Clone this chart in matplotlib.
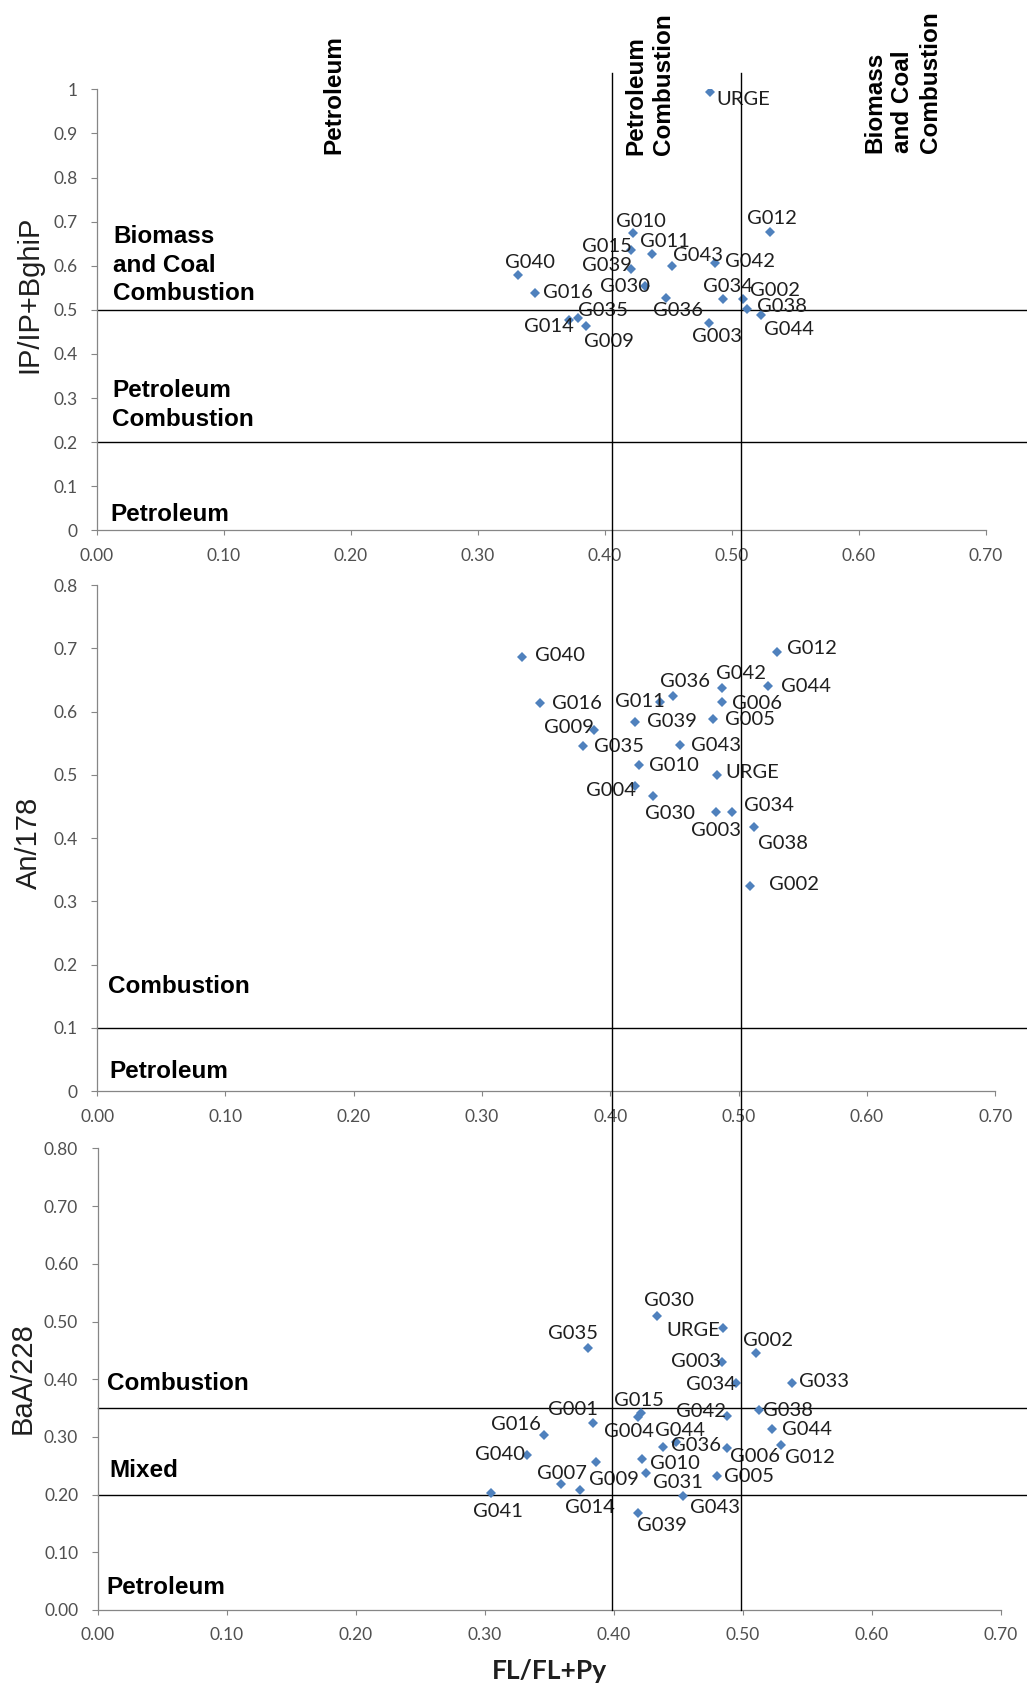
import matplotlib
matplotlib.use('Agg')
import matplotlib.pyplot as plt
from matplotlib.lines import Line2D
from matplotlib.transforms import blended_transform_factory

# ---------------- data ----------------
x_ticks = [0.0, 0.1, 0.2, 0.3, 0.4, 0.5, 0.6, 0.7]
x_tick_labels = ['0.00', '0.10', '0.20', '0.30', '0.40', '0.50', '0.60', '0.70']

# panel 1: IP/IP+BghiP
ip_names = ['URGE', 'G010', 'G012', 'G015', 'G011', 'G039', 'G043', 'G042', 'G040', 'G016',
            'G030', 'G034', 'G002', 'G036', 'G038', 'G035', 'G014', 'G009', 'G003', 'G044']
ip_x = [0.483, 0.422, 0.530, 0.421, 0.437, 0.421, 0.453, 0.487, 0.332, 0.345,
        0.432, 0.493, 0.509, 0.448, 0.512, 0.379, 0.372, 0.385, 0.482, 0.523]
ip_y = [0.995, 0.674, 0.676, 0.636, 0.627, 0.593, 0.600, 0.607, 0.578, 0.539,
        0.553, 0.525, 0.524, 0.526, 0.501, 0.482, 0.476, 0.464, 0.471, 0.488]
ip_yticks = [0, 0.1, 0.2, 0.3, 0.4, 0.5, 0.6, 0.7, 0.8, 0.9, 1.0]
ip_ytick_labels = ['0', '0.1', '0.2', '0.3', '0.4', '0.5', '0.6', '0.7', '0.8', '0.9', '1']
ip_limits = [0.2, 0.5]

# panel 2: An/178
an_names = ['G040', 'G012', 'G036', 'G042', 'G044', 'G016', 'G011', 'G006', 'G009', 'G039', 'G005',
            'G035', 'G043', 'G010', 'URGE', 'G004', 'G030', 'G003', 'G034', 'G038', 'G002']
an_x = [0.331, 0.530, 0.449, 0.487, 0.523, 0.345, 0.439, 0.487, 0.387, 0.419, 0.480,
        0.379, 0.454, 0.422, 0.483, 0.419, 0.433, 0.482, 0.495, 0.512, 0.509]
an_y = [0.686, 0.695, 0.625, 0.637, 0.640, 0.613, 0.616, 0.616, 0.571, 0.584, 0.588,
        0.545, 0.547, 0.515, 0.500, 0.483, 0.467, 0.441, 0.441, 0.417, 0.324]
an_yticks = [0, 0.1, 0.2, 0.3, 0.4, 0.5, 0.6, 0.7, 0.8]
an_ytick_labels = ['0', '0.1', '0.2', '0.3', '0.4', '0.5', '0.6', '0.7', '0.8']
an_limits = [0.1]

# panel 3: BaA/228
baa_names = ['G030', 'URGE', 'G035', 'G002', 'G003', 'G034', 'G033', 'G015', 'G001', 'G042',
             'G038', 'G016', 'G004', 'G044', 'G044', 'G036', 'G040', 'G006', 'G012', 'G010',
             'G007', 'G009', 'G031', 'G005', 'G041', 'G014', 'G043', 'G039']
baa_x = [0.434, 0.485, 0.380, 0.510, 0.484, 0.495, 0.538, 0.421, 0.384, 0.488,
         0.513, 0.346, 0.419, 0.448, 0.523, 0.438, 0.333, 0.488, 0.530, 0.422,
         0.359, 0.386, 0.425, 0.480, 0.305, 0.374, 0.454, 0.419]
baa_y = [0.510, 0.489, 0.454, 0.445, 0.430, 0.393, 0.393, 0.341, 0.324, 0.336,
         0.346, 0.303, 0.335, 0.292, 0.313, 0.282, 0.269, 0.281, 0.286, 0.262,
         0.218, 0.256, 0.237, 0.232, 0.202, 0.208, 0.198, 0.168]
baa_yticks = [0, 0.1, 0.2, 0.3, 0.4, 0.5, 0.6, 0.7, 0.8]
baa_ytick_labels = ['0.00', '0.10', '0.20', '0.30', '0.40', '0.50', '0.60', '0.70', '0.80']
baa_limits = [0.2, 0.35]

fl_limits = [0.4, 0.5]

# ---------------- layout (label offsets in pixels, dx, dy) ----------------
ip_offsets = [(33, -8), (8, 12), (2, 14), (-24, 3), (13, 12), (-24, 3), (26, 10), (35, 1),
              (12, 13), (33, 0), (-20, 0), (5, 12), (32, 9), (12, -12), (35, 3), (25, 7),
              (-20, -6), (23, -16), (8, -14), (28, -14)]
an_offsets = [(38, 2), (35, 3), (12, 14), (19, 15), (38, 0), (37, 0), (-20, 0), (35, -2),
              (-25, 2), (37, 0), (37, 0), (36, 0), (36, 0), (35, 0), (35, 2), (-24, -5),
              (17, -18), (0, -18), (37, 7), (29, -16), (44, 2)]
baa_offsets = [(12, 15), (-30, -3), (-15, 15), (13, 13), (-26, 0), (-25, -1), (32, 2), (-2, 13),
               (-20, 14), (-26, 5), (29, 0), (-28, 11), (-9, -15), (4, 11), (35, 0), (33, 2),
               (-27, 0), (28, -9), (29, -13), (33, -5), (1, 11), (18, -17), (32, -9), (32, 0),
               (7, -18), (10, -18), (32, -12), (24, -12)]

W, H = 1027, 1687
fig = plt.figure(figsize=(W / 100, H / 100), dpi=100)


def px_axes(left, top, width, height):
    return fig.add_axes([left / W, (H - top - height) / H, width / W, height / H])


ax1 = px_axes(96.9, 89.3, 888.7, 441.1)
ax2 = px_axes(97.1, 585.1, 898.1, 506.1)
ax3 = px_axes(97.6, 1148.4, 903.0, 461.6)

BLUE = '#4F81BD'
GRAY = '#868686'
TICKCOL = '#505050'
TXT = '#1f1f1f'


def setup(ax, names, xs, ys, offsets, yticks, yticklabels, ymax, hlines):
    ax.set_xlim(0, 0.7)
    ax.set_ylim(0, ymax)
    for s in ['top', 'right']:
        ax.spines[s].set_visible(False)
    for s in ['left', 'bottom']:
        ax.spines[s].set_color(GRAY)
        ax.spines[s].set_linewidth(0.9)
    ax.set_xticks(x_ticks)
    ax.set_xticklabels(x_tick_labels, family='Lato', fontsize=12.5, color=TICKCOL)
    ax.set_yticks(yticks)
    ax.set_yticklabels(yticklabels, family='Lato', fontsize=12.5, color=TICKCOL)
    ax.tick_params(axis='x', direction='out', length=3.5, width=0.8, color=GRAY, pad=9)
    ax.tick_params(axis='y', direction='out', length=4, width=0.8, color=GRAY, pad=10)
    for h in hlines:
        ax.axhline(h, 0, 1.2, color='black', lw=1.0, clip_on=False, zorder=1)
    ax.plot(xs, ys, 'D', color=BLUE, ms=4.8, mew=0, zorder=3)
    for name, x, y, off in zip(names, xs, ys, offsets):
        ax.annotate(name, (x, y), xytext=off, textcoords='offset pixels',
                    ha='center', va='center', family='Lato', fontsize=14.5, color=TXT, zorder=4)


setup(ax1, ip_names, ip_x, ip_y, ip_offsets, ip_yticks, ip_ytick_labels, 1.0, ip_limits)
setup(ax2, an_names, an_x, an_y, an_offsets, an_yticks, an_ytick_labels, 0.8, an_limits)
setup(ax3, baa_names, baa_x, baa_y, baa_offsets, baa_yticks, baa_ytick_labels, 0.8, baa_limits)

# vertical FL/FL+Py limits running through all three panels
trans = blended_transform_factory(ax3.transData, fig.transFigure)
for v in fl_limits:
    fig.add_artist(Line2D([v - 0.0015, v - 0.0015], [(H - 1610) / H, (H - 72.5) / H],
                          transform=trans, color='black', lw=1.0, zorder=2))

# region labels
bold = dict(family='Liberation Sans', fontweight='bold', fontsize=17.5, color='black',
            ha='left', va='center', linespacing=1.3)
ax1.text(0.013, 0.601, 'Biomass\nand Coal\nCombustion', **bold)
ax1.text(0.012, 0.284, 'Petroleum\nCombustion', **bold)
ax1.text(0.011, 0.037, 'Petroleum', **bold)
ax2.text(0.0085, 0.1655, 'Combustion', **bold)
ax2.text(0.0093, 0.031, 'Petroleum', **bold)
ax3.text(0.007, 0.392, 'Combustion', **bold)
ax3.text(0.0093, 0.241, 'Mixed', **bold)
ax3.text(0.007, 0.039, 'Petroleum', **bold)

rot = dict(family='Liberation Sans', fontweight='bold', fontsize=17.5, color='black',
           rotation=90, ha='center', va='bottom', multialignment='left', linespacing=1.28,
           clip_on=False)
ax1.text(0.1868, 0.854, 'Petroleum', **rot)
ax1.text(0.4356, 0.851, 'Petroleum\nCombustion', **rot)
ax1.text(0.6345, 0.855, 'Biomass\nand Coal\nCombustion', **rot)

# axis titles
ylab = dict(family='Liberation Sans', fontsize=21, color=TXT, rotation=90, ha='center', va='center')
fig.text(29 / W, 1 - 294 / H, 'IP/IP+BghiP', **ylab)
fig.text(29 / W, 1 - 843 / H, 'An/178', **ylab)
fig.text(23 / W, 1 - 1378 / H, 'BaA/228', **ylab)
fig.text(549 / W, 1 - 1671 / H, 'FL/FL+Py', family='Lato', fontweight='bold', fontsize=19,
         color=TXT, ha='center', va='center')

fig.savefig('out.png', dpi=100)
